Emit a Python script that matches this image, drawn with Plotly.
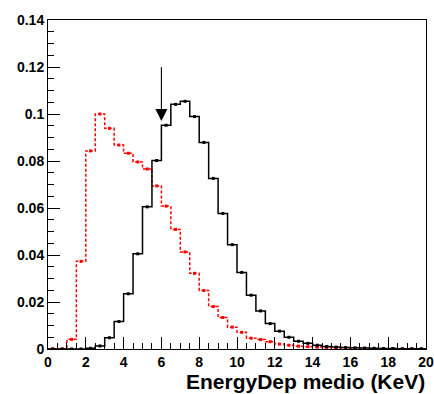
import plotly.graph_objects as go

# Bin edges: 40 bins of width 0.5 from 0 to 20
bin_width = 0.5
n_bins = 40
bin_edges = [i * bin_width for i in range(n_bins + 1)]

black_values = [0, 0, 0, 0,
                0.0003, 0.0013, 0.0048, 0.0117, 0.0235, 0.0405, 0.0605, 0.0802,
                0.0952, 0.1041, 0.1054, 0.0989, 0.0879, 0.0726, 0.0577, 0.0444,
                0.0326, 0.0229, 0.0162, 0.0108, 0.0076, 0.0050, 0.0033, 0.0024,
                0.0016, 0.0011, 0.0008, 0.0006, 0.0005, 0.0004, 0.0003, 0.0002,
                0.0002, 0.0001, 0.0001, 0.0001]

red_values = [0, 0,
              0.0041, 0.0373, 0.0843, 0.1000, 0.0939, 0.0868, 0.0833, 0.0796,
              0.0766, 0.0694, 0.0608, 0.0509, 0.0413, 0.0322, 0.0249, 0.0181,
              0.0134, 0.0093, 0.0071, 0.0046, 0.0040, 0.0031, 0.0021, 0.0016,
              0.0012, 0.0010, 0.0008, 0.0006, 0.0004, 0.0003, 0.0002, 0.0002,
              0.0001, 0.0001, 0.0001, 0.0, 0.0, 0.0]

y_tick_vals = [0, 0.02, 0.04, 0.06, 0.08, 0.1, 0.12, 0.14]
y_tick_text = ["0", "0.02", "0.04", "0.06", "0.08", "0.1", "0.12", "0.14"]
x_tick_vals = [0, 2, 4, 6, 8, 10, 12, 14, 16, 18, 20]
x_tick_text = [str(v) for v in x_tick_vals]

arrow_x = 6
arrow_tip = 0.097
arrow_tail = 0.1205

x_title = "EnergyDep medio (KeV)"

FONT = "Liberation Sans, Arial, sans-serif"


def step_xy(values):
    xs = bin_edges[:-1] + [bin_edges[-1]]
    ys = list(values) + [values[-1]]
    return xs, ys


centers = [e + bin_width / 2 for e in bin_edges[:-1]]

fig = go.Figure()

rx, ry = step_xy(red_values)
fig.add_trace(go.Scatter(x=rx, y=ry, mode="lines", line_shape="hv",
                         line=dict(color="#ff0000", width=1.5, dash="3px,2px"),
                         hoverinfo="skip"))
fig.add_trace(go.Scatter(x=centers, y=red_values, mode="markers",
                         marker=dict(symbol="square", size=3, color="#ff0000"),
                         hoverinfo="skip"))

bx, by = step_xy(black_values)
fig.add_trace(go.Scatter(x=bx, y=by, mode="lines", line_shape="hv",
                         line=dict(color="black", width=1.5),
                         hoverinfo="skip"))
fig.add_trace(go.Scatter(x=centers, y=black_values, mode="markers",
                         marker=dict(symbol="square", size=3, color="black"),
                         hoverinfo="skip"))

fig.add_annotation(x=arrow_x, y=arrow_tip, ax=arrow_x, ay=arrow_tail,
                   xref="x", yref="y", axref="x", ayref="y",
                   text="", showarrow=True, arrowhead=2, arrowsize=2.2,
                   arrowwidth=1.1, arrowcolor="black")

fig.add_annotation(x=1, y=-0.1368, xref="paper", yref="paper",
                   xanchor="right", yanchor="bottom", showarrow=False,
                   borderpad=0,
                   text=x_title,
                   font=dict(family=FONT, size=21, color="black", weight="bold"))

fig.update_layout(
    width=434, height=394,
    margin=dict(l=48, r=8, t=20, b=45, autoexpand=False),
    paper_bgcolor="white", plot_bgcolor="white",
    showlegend=False,
    xaxis=dict(range=[0, 20], showgrid=False, zeroline=False,
               showline=True, mirror=True, linecolor="black", linewidth=1,
               ticks="inside", ticklen=12, tickcolor="black", tickwidth=1,
               tickvals=x_tick_vals, ticktext=x_tick_text,
               minor=dict(dtick=0.5, ticks="inside", ticklen=6, tickcolor="black", tickwidth=1),
               tickfont=dict(family=FONT, size=14, color="black", weight="bold")),
    yaxis=dict(range=[0, 0.14], showgrid=False, zeroline=False,
               showline=True, mirror=True, linecolor="black", linewidth=1,
               ticks="inside", ticklen=12, tickcolor="black", tickwidth=1,
               tickvals=y_tick_vals, ticktext=y_tick_text,
               minor=dict(dtick=0.005, ticks="inside", ticklen=6, tickcolor="black", tickwidth=1),
               tickfont=dict(family=FONT, size=14, color="black", weight="bold")),
)

fig.write_html("out.html")
